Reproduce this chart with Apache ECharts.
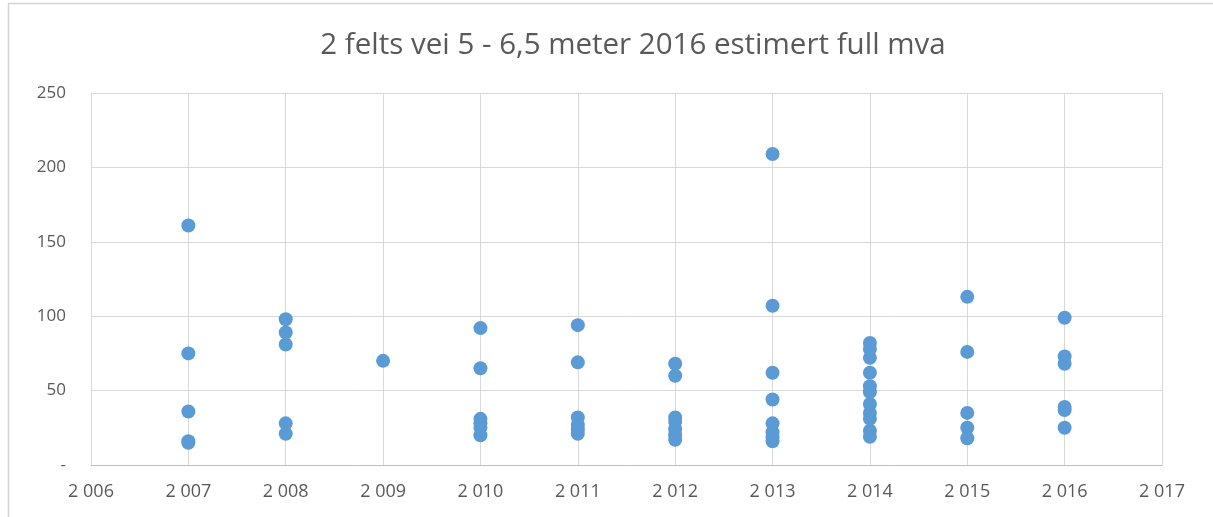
<!DOCTYPE html>
<html style="height: 100%">
<head>
	<meta charset="utf-8">
	<title></title>
	<script type="text/javascript" src="https://cdn.jsdelivr.net/npm/echarts@6/dist/echarts.min.js"></script>
</head>
<body style="height: 100%; margin: 0; background: #fff">
<div id="container" style="height: 100%"></div>
<script type="text/javascript">
	var title = '2 felts vei 5 - 6,5 meter 2016 estimert full mva';
	var years = [2007, 2008, 2009, 2010, 2011, 2012, 2013, 2014, 2015, 2016];
	var v2007 = [161, 75, 36, 16, 15];
	var v2008 = [98, 89, 81, 28, 21];
	var v2009 = [70];
	var v2010 = [92, 65, 31, 28, 25, 20];
	var v2011 = [94, 69, 32, 27, 24, 21];
	var v2012 = [68, 60, 32, 29, 24, 20, 17];
	var v2013 = [209, 107, 62, 44, 28, 22, 19, 16];
	var v2014 = [82, 78, 72, 62, 53, 49, 41, 35, 31, 23, 19];
	var v2015 = [113, 76, 35, 25, 18];
	var v2016 = [99, 73, 68, 39, 37, 25];
	var yTicks = [0, 50, 100, 150, 200, 250];

	var groups = [v2007, v2008, v2009, v2010, v2011, v2012, v2013, v2014, v2015, v2016];
	var points = [];
	for (var i = 0; i < years.length; i++) {
		for (var j = 0; j < groups[i].length; j++) {
			points.push([years[i], groups[i][j]]);
		}
	}

	// "2007" -> "2 007" like the original number format
	function fmtYear(v) {
		var s = String(v);
		return s.charAt(0) + ' ' + s.slice(1);
	}

	var myChart = echarts.init(document.getElementById('container'));
	var option = {
		animation: false,
		textStyle: {fontFamily: 'Open Sans'},
		title: {
			text: title,
			left: 628,
			textAlign: 'center',
			top: 26,
			textStyle: {fontSize: 29.5, fontWeight: 'normal', color: '#595959', fontFamily: 'Open Sans'}
		},
		graphic: [{
			type: 'rect',
			shape: {x: 8.5, y: 3.5, width: 1400, height: 700},
			style: {fill: 'none', stroke: '#d4d4d4', lineWidth: 1.5},
			silent: true
		}],
		grid: {left: 91, right: 51, top: 93, bottom: 52},
		xAxis: {
			type: 'value',
			min: 2006,
			max: 2017,
			interval: 1,
			axisLine: {show: true, lineStyle: {color: '#bfbfbf'}},
			axisTick: {show: false},
			splitLine: {show: true, lineStyle: {color: '#d9d9d9'}},
			axisLabel: {color: '#595959', fontSize: 18, margin: 18, formatter: fmtYear}
		},
		yAxis: {
			type: 'value',
			min: yTicks[0],
			max: yTicks[yTicks.length - 1],
			interval: 50,
			axisLine: {show: false},
			axisTick: {show: false},
			splitLine: {show: true, lineStyle: {color: '#d9d9d9'}},
			axisLabel: {
				color: '#595959', fontSize: 17, margin: 25,
				formatter: function (v) { return v === 0 ? '-' : String(v); }
			}
		},
		series: [{
			type: 'scatter',
			data: points,
			symbolSize: 14,
			itemStyle: {color: '#5b9bd5', opacity: 1}
		}]
	};
	myChart.setOption(option);
</script>
</body>
</html>
